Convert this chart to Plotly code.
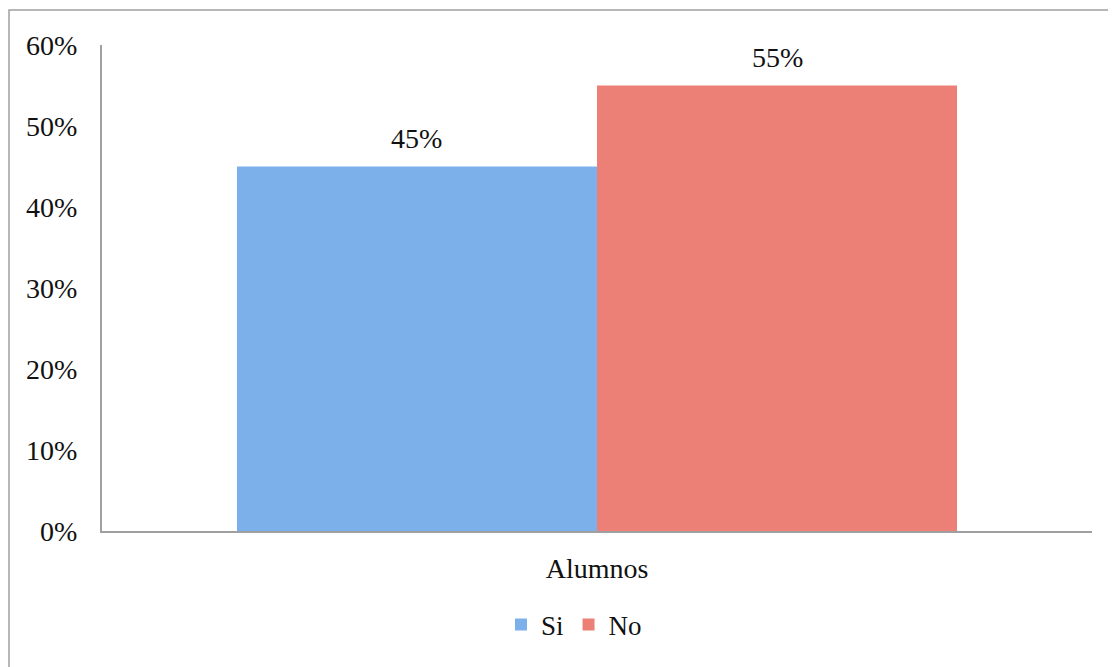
import plotly.graph_objects as go

categories = ["Alumnos"]
series_names = ["Si", "No"]
si_values = [0.45]
no_values = [0.55]
y_ticks = [0, 0.1, 0.2, 0.3, 0.4, 0.5, 0.6]
y_tick_labels = ["0%", "10%", "20%", "30%", "40%", "50%", "60%"]

colors = {"Si": "#7CB0EB", "No": "#EC8077"}
font_family = "Liberation Serif"
text_color = "#111111"

fig = go.Figure()
for name, vals in zip(series_names, [si_values, no_values]):
    fig.add_trace(go.Bar(
        name=name, x=categories, y=vals,
        marker=dict(color=colors[name], line=dict(width=0)),
    ))

W, H = 1116, 667
ml, mr, mt, mb = 94, 32, 37, 144
plot_w = W - ml - mr
plot_h = H - mt - mb
bargap = 0.2727
bar_px = plot_w * (1 - bargap) / 2

for i, (name, vals) in enumerate(zip(series_names, [si_values, no_values])):
    for c, v in zip(categories, vals):
        fig.add_annotation(
            x=c, y=v, xref="x", yref="y", text=f"{round(v*100)}%",
            showarrow=False, yanchor="middle",
            xshift=(i - 0.5) * bar_px, yshift=28,
            font=dict(family=font_family, size=28, color=text_color),
        )

fig.add_shape(type="rect", xref="paper", yref="paper",
              x0=(1 - ml) / plot_w, x1=(W + 10 - ml) / plot_w,
              y0=-(mb + 10) / plot_h, y1=(H - mb - 2) / plot_h,
              line=dict(color="#a0a0a0", width=1.5), layer="below")

fig.update_layout(
    width=W, height=H,
    margin=dict(l=ml, r=mr, t=mt, b=mb),
    plot_bgcolor="white", paper_bgcolor="white",
    barmode="group", bargap=bargap, bargroupgap=0,
    font=dict(family=font_family, size=28, color=text_color),
    showlegend=True,
    legend=dict(orientation="h", x=(566 - ml) / plot_w, xanchor="center",
                y=-(617 - (H - mb)) / plot_h, yanchor="middle",
                font=dict(family=font_family, size=27, color=text_color),
                itemwidth=30, traceorder="normal"),
    xaxis=dict(showline=True, linecolor="#a0a0a0", linewidth=2,
               showgrid=False, ticks="", ticklabelstandoff=11,
               tickfont=dict(family=font_family, size=28, color=text_color)),
    yaxis=dict(range=[0, 0.6], tickvals=y_ticks, ticktext=y_tick_labels,
               showline=True, linecolor="#a0a0a0", linewidth=2,
               showgrid=False, ticks="", zeroline=False, ticklabelstandoff=17,
               tickfont=dict(family=font_family, size=28, color=text_color)),
)

fig.write_html("out.html")
